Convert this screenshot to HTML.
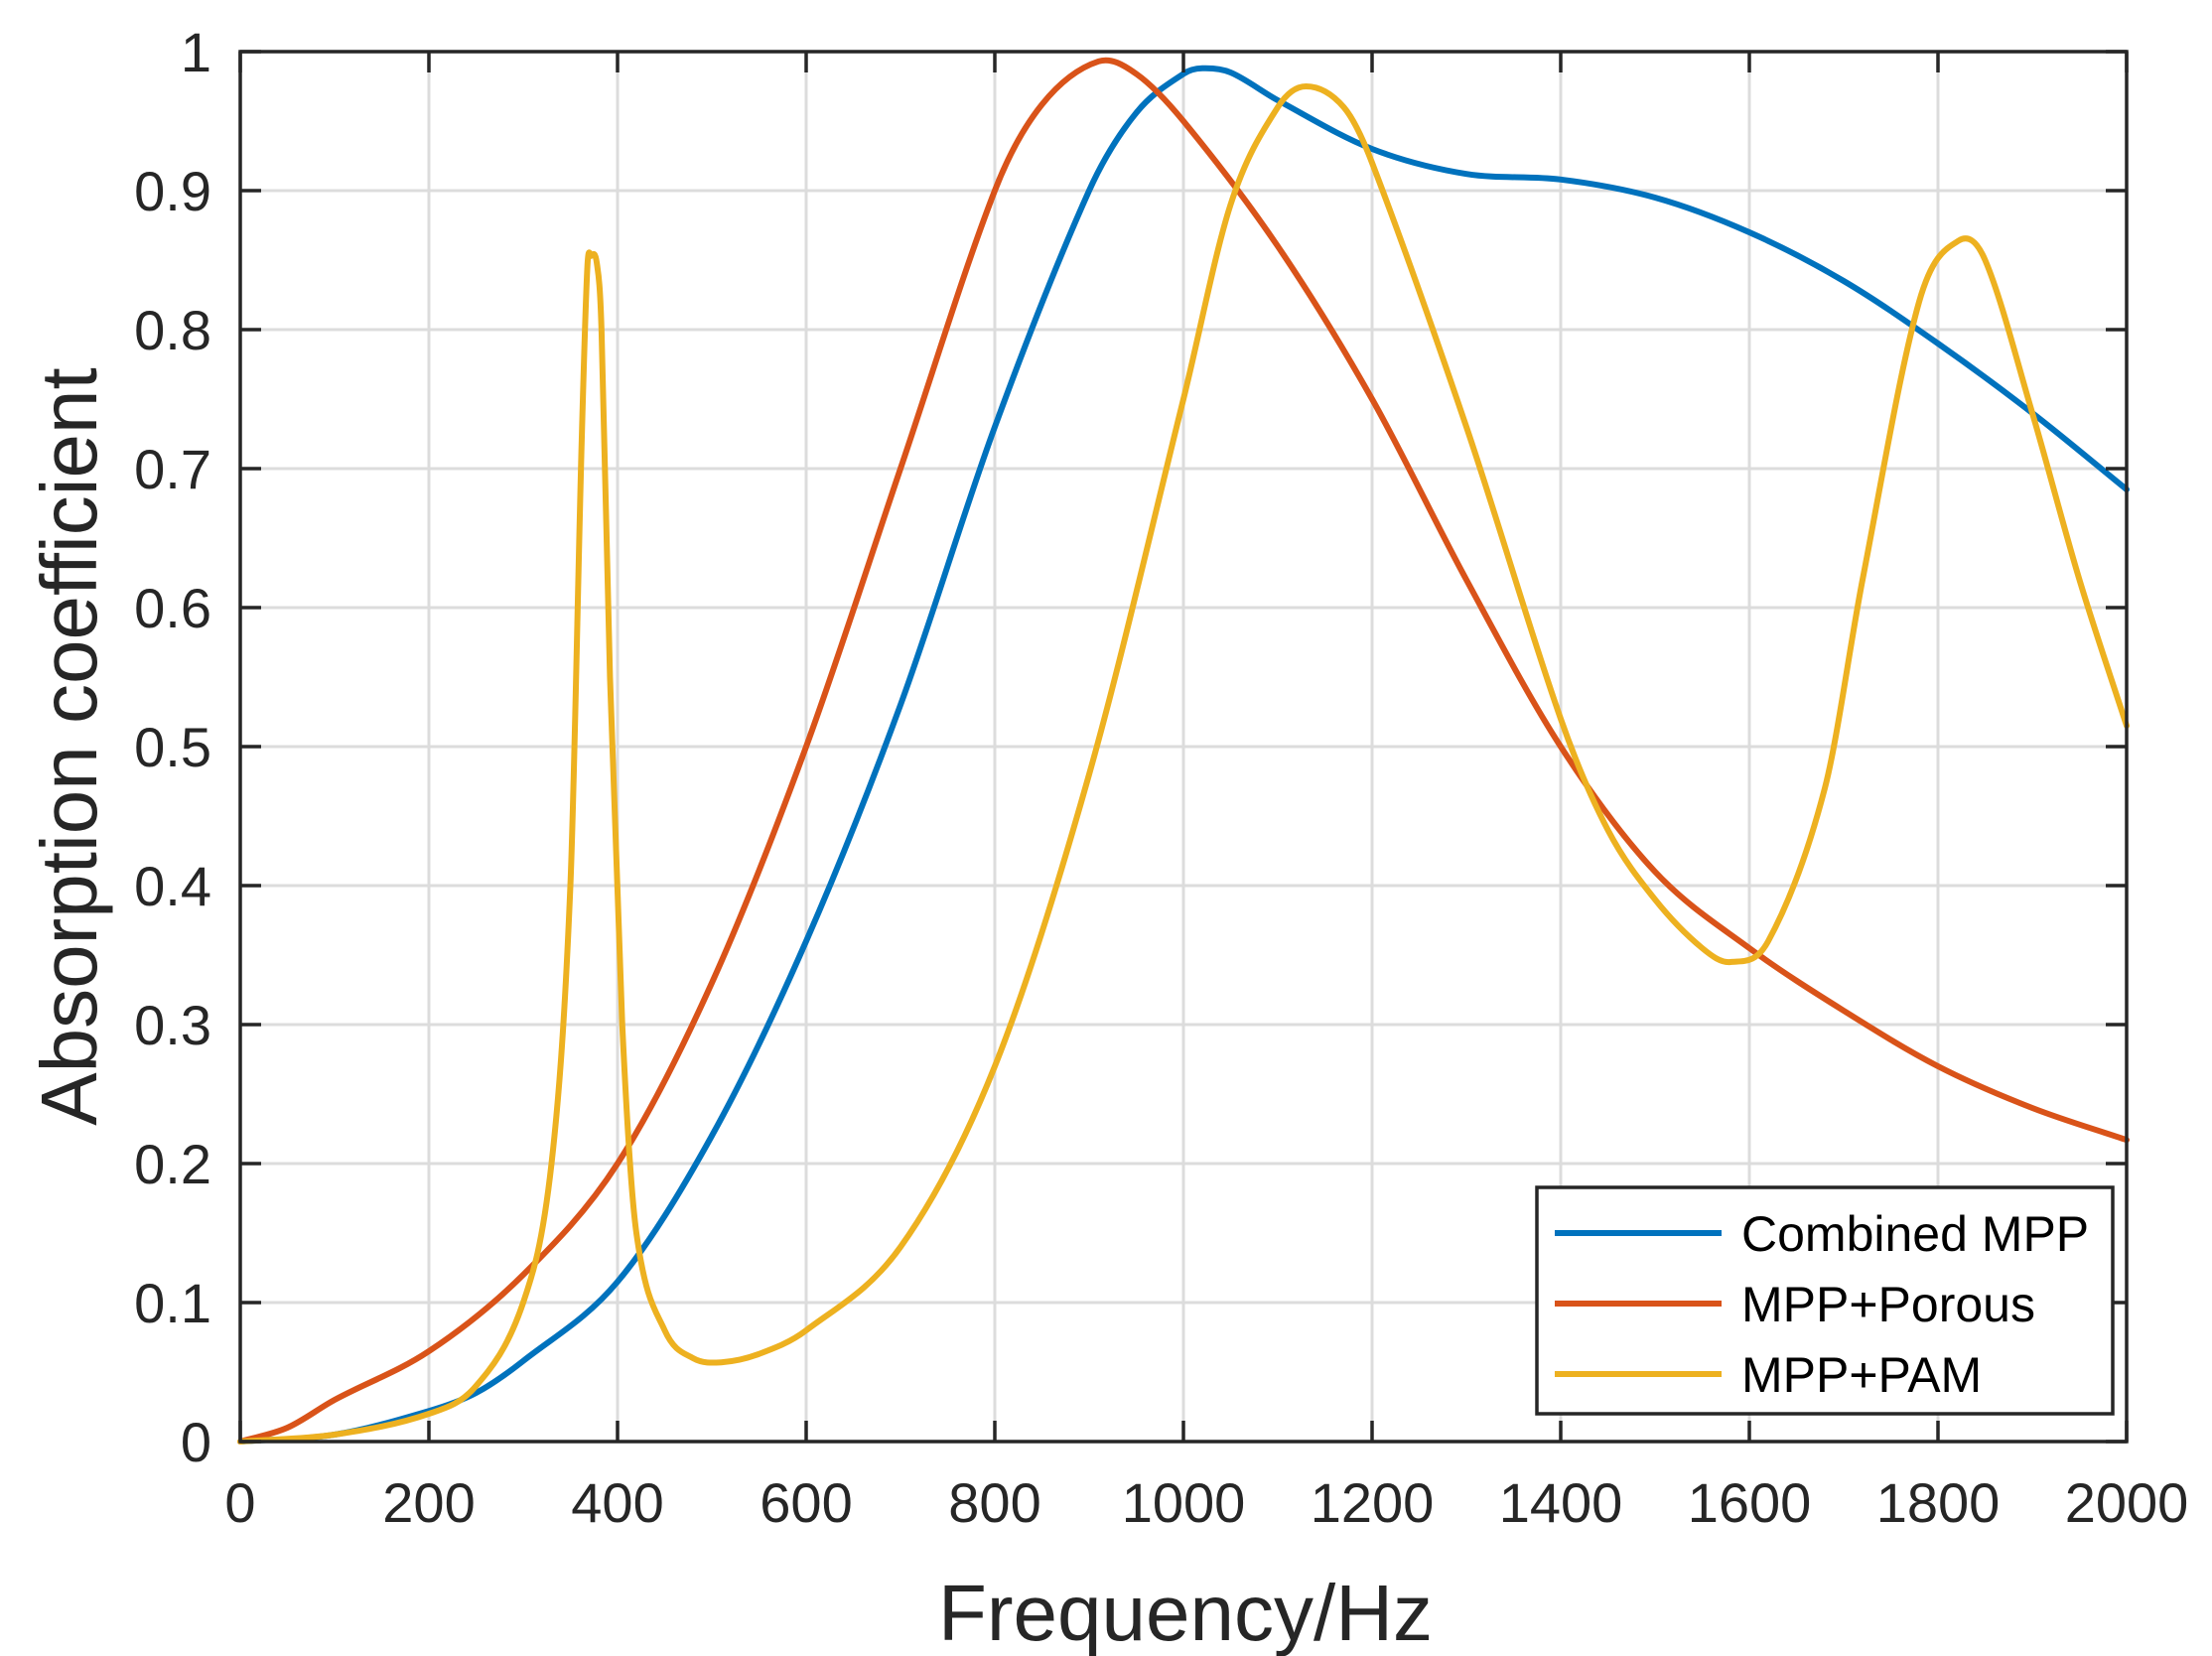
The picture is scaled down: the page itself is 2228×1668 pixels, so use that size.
<!DOCTYPE html>
<html><head><meta charset="utf-8"><style>
html,body{margin:0;padding:0;background:#fff;}
svg{display:block;}
text{font-family:"Liberation Sans",Arial,sans-serif;fill:#262626;}
</style></head><body>
<svg id="s" width="2228" height="1668" viewBox="0 0 2228 1668" xmlns="http://www.w3.org/2000/svg">
<rect width="2228" height="1668" fill="#fff"/>
<g id="grid" stroke="#dcdcdc" stroke-width="3"></g>
<g id="curves" fill="none" stroke-width="6" stroke-linejoin="round" stroke-linecap="round"></g>
<g id="axes" stroke="#262626" stroke-width="3.5" fill="none"></g>
<g id="labels" font-size="56"></g>
<text x="1194" y="1652" font-size="80" text-anchor="middle">Frequency/Hz</text>
<text transform="translate(97,752) rotate(-90)" font-size="80" text-anchor="middle">Absorption coefficient</text>
<rect x="1548" y="1196" width="580" height="228" fill="#fff" stroke="#262626" stroke-width="3.5"/>
<line x1="1566" y1="1242" x2="1734" y2="1242" stroke="#0072BD" stroke-width="6"/>
<line x1="1566" y1="1313" x2="1734" y2="1313" stroke="#D95319" stroke-width="6"/>
<line x1="1566" y1="1384" x2="1734" y2="1384" stroke="#EDB120" stroke-width="6"/>
<text x="1754" y="1260" font-size="50" style="fill:#000">Combined MPP</text>
<text x="1754" y="1331" font-size="50" style="fill:#000">MPP+Porous</text>
<text x="1754" y="1402" font-size="50" style="fill:#000">MPP+PAM</text>
</svg>
<script>
var L=242,T=52,R=2142,B=1452;
function X(f){return L+(R-L)*f/2000;}
function Y(a){return B-(B-T)*a;}
var ns="http://www.w3.org/2000/svg";
function el(p,t,a){var e=document.createElementNS(ns,t);for(var k in a)e.setAttribute(k,a[k]);p.appendChild(e);return e;}
var g=document.getElementById('grid'),ax=document.getElementById('axes'),lb=document.getElementById('labels');
for(var i=0;i<=10;i++){var f=i*200,x=X(f);
 if(i>0&&i<10)el(g,'line',{x1:x,y1:T,x2:x,y2:B});
 el(ax,'line',{x1:x,y1:B,x2:x,y2:B-21});el(ax,'line',{x1:x,y1:T,x2:x,y2:T+21});
 var t=el(lb,'text',{x:x,y:1533,'text-anchor':'middle'});t.textContent=String(f);}
for(var i=0;i<=10;i++){var a=i/10,y=Y(a);
 if(i>0&&i<10)el(g,'line',{x1:L,y1:y,x2:R,y2:y});
 el(ax,'line',{x1:L,y1:y,x2:L+21,y2:y});el(ax,'line',{x1:R,y1:y,x2:R-21,y2:y});
 var t=el(lb,'text',{x:213,y:y+20,'text-anchor':'end'});t.textContent=i==0?'0':(i==10?'1':'0.'+i);}
el(ax,'rect',{x:L,y:T,width:R-L,height:B-T});
function path(d){var n=d.length,m=[];
 for(var i=0;i<n;i++){var a=d[Math.max(0,i-1)],b=d[Math.min(n-1,i+1)];m.push((b[1]-a[1])/(b[0]-a[0]));}
 var s='M'+X(d[0][0])+','+Y(d[0][1]);
 for(var i=0;i<n-1;i++){var x0=d[i][0],y0=d[i][1],x1=d[i+1][0],y1=d[i+1][1],h=(x1-x0)/3;
  s+='C'+X(x0+h)+','+Y(y0+m[i]*h)+' '+X(x1-h)+','+Y(y1-m[i+1]*h)+' '+X(x1)+','+Y(y1);}
 return s;}
var blue=[[0,0],[100,0.005],[200,0.022],[250,0.035],[300,0.058],[400,0.115],[500,0.22],[600,0.36],[700,0.53],[800,0.73],[900,0.9],[950,0.956],[1000,0.984],[1020,0.988],[1050,0.985],[1100,0.965],[1200,0.93],[1300,0.912],[1400,0.908],[1500,0.895],[1600,0.87],[1700,0.835],[1800,0.79],[1900,0.74],[2000,0.685]];
var red=[[0,0],[50,0.01],[100,0.03],[200,0.065],[300,0.12],[400,0.2],[500,0.33],[600,0.5],[700,0.7],[800,0.9],[850,0.962],[910,0.993],[950,0.984],[1000,0.95],[1100,0.86],[1200,0.75],[1300,0.62],[1400,0.5],[1500,0.41],[1600,0.355],[1700,0.31],[1800,0.27],[1900,0.24],[2000,0.217]];
var yel=[[0,0],[100,0.005],[200,0.02],[250,0.04],[300,0.1],[330,0.2],[350,0.4],[362,0.72],[368,0.845],[372,0.853],[378,0.848],[383,0.8],[392,0.55],[405,0.3],[420,0.15],[450,0.08],[480,0.06],[510,0.057],[550,0.063],[600,0.08],[700,0.14],[800,0.27],[900,0.48],[1000,0.75],[1050,0.89],[1100,0.96],[1130,0.975],[1170,0.96],[1200,0.92],[1300,0.73],[1400,0.52],[1450,0.44],[1500,0.39],[1550,0.355],[1580,0.345],[1620,0.36],[1680,0.47],[1720,0.62],[1780,0.82],[1822,0.864],[1850,0.85],[1900,0.74],[1950,0.62],[2000,0.515]];
var c=document.getElementById('curves');
el(c,'path',{d:path(blue),stroke:'#0072BD'});
el(c,'path',{d:path(red),stroke:'#D95319'});
el(c,'path',{d:path(yel),stroke:'#EDB120'});
</script>
</body></html>
